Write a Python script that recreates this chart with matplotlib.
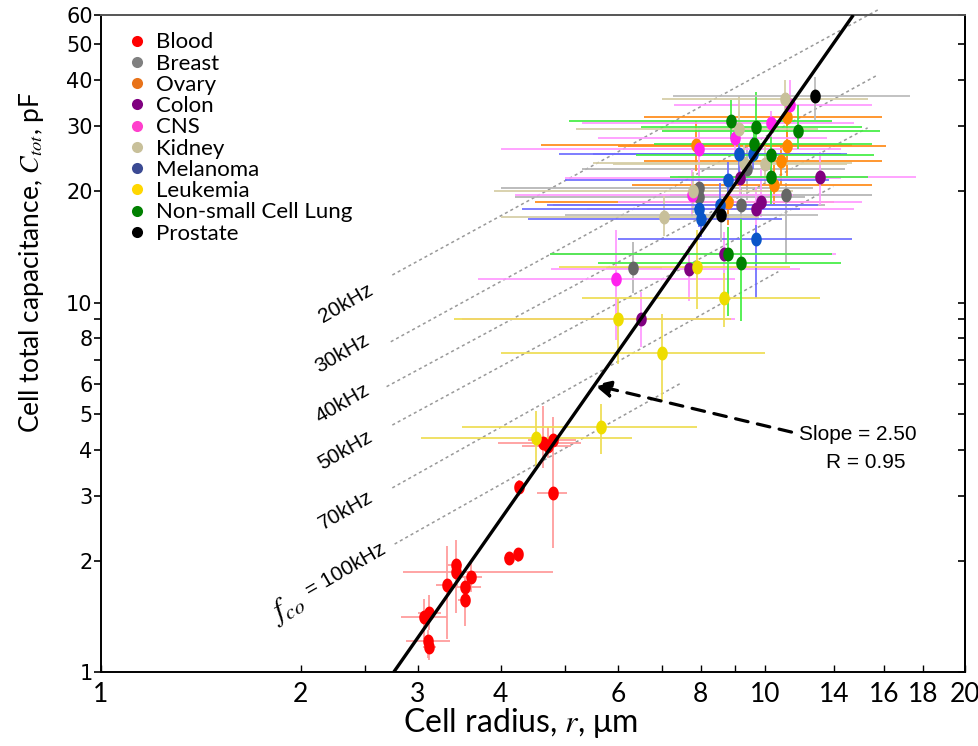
import numpy as np
import matplotlib
matplotlib.use("Agg")
import matplotlib.pyplot as plt
from matplotlib.path import Path
from matplotlib.lines import Line2D

# ---------------- data ----------------
CATEGORIES = ["Blood", "Breast", "Ovary", "Colon", "CNS", "Kidney",
              "Melanoma", "Leukemia", "Non-small Cell Lung", "Prostate"]
MARKER_COLORS = ["#ff0000", "#666666", "#ff8800", "#800080", "#ff22ee",
                 "#c8c09a", "#0a55c8", "#eedd00", "#008000", "#000000"]
LEGEND_COLORS = ["#ff0000", "#808080", "#e8731a", "#800080", "#ff3fcc",
                 "#c8c09a", "#3b4a93", "#ffd700", "#008000", "#000000"]
ERR_COLORS = ["#ff9a9a", "#b4b4b4", "#ff8c1a", "#ff99ff", "#ff99ff",
              "#d6cea6", "#6f6fff", "#eedd55", "#44ee44", "#bbbbbb"]

# each category: radius r (um), capacitance C (pF), r range, C range
BLOOD_R = [3.06, 3.12, 3.11, 3.12, 3.32, 3.43, 3.43, 3.61, 3.53, 3.53, 4.11, 4.25, 4.26, 4.79, 4.63, 4.71, 4.79]
BLOOD_C = [1.41, 1.44, 1.21, 1.17, 1.72, 1.95, 1.86, 1.81, 1.70, 1.57, 2.04, 2.08, 3.17, 3.06, 4.17, 4.10, 4.25]
BLOOD_R_LO = [2.83, 3.00, 2.88, 3.05, 3.20, 3.33, 2.85, 3.50, 3.36, 3.45, 4.05, 4.20, 4.20, 4.54, 3.96, 4.30, 4.40]
BLOOD_R_HI = [3.32, 3.25, 3.35, 3.20, 3.45, 3.50, 4.79, 3.75, 3.73, 3.60, 4.17, 4.30, 4.32, 5.04, 5.29, 5.10, 5.20]
BLOOD_C_LO = [1.23, 1.30, 1.09, 1.08, 1.23, 1.44, 1.70, 1.65, 1.60, 1.33, 1.97, 1.99, 3.00, 2.17, 3.57, 3.80, 3.90]
BLOOD_C_HI = [1.58, 1.62, 1.30, 1.25, 2.19, 2.28, 2.00, 1.98, 1.80, 1.65, 2.10, 2.16, 3.30, 4.14, 5.25, 4.60, 4.90]

BREAST_R = [9.4, 10.75, 7.95, 7.95, 9.2, 6.33]
BREAST_C = [23.0, 19.5, 20.4, 19.3, 18.4, 12.4]
BREAST_R_LO = [5.3, 7.18, 4.0, 4.2, 4.8, 5.76]
BREAST_R_HI = [13.2, 14.5, 11.8, 11.5, 12.3, 6.99]
BREAST_C_LO = [19.0, 12.8, 18.0, 17.0, 12.9, 10.6]
BREAST_C_HI = [27.0, 21.0, 23.0, 22.0, 20.5, 14.6]

OVARY_R = [10.8, 7.87, 10.8, 10.55, 10.3, 8.8]
OVARY_C = [31.7, 26.7, 26.6, 24.1, 20.8, 18.7]
OVARY_R_LO = [6.57, 4.6, 6.0, 6.57, 6.3, 4.5]
OVARY_R_HI = [15.0, 13.5, 15.2, 15.0, 14.5, 12.7]
OVARY_C_LO = [27.0, 22.7, 22.0, 20.8, 18.5, 16.2]
OVARY_C_HI = [37.0, 31.0, 31.0, 26.7, 23.5, 20.0]

COLON_R = [12.1, 9.16, 9.87, 9.7, 8.68, 7.67, 6.5]
COLON_C = [21.8, 21.7, 18.7, 17.9, 13.5, 12.3, 9.0]
COLON_R_LO = [7.4, 5.0, 6.0, 5.4, 4.75, 4.76, 3.5]
COLON_R_HI = [16.9, 13.0, 14.0, 13.6, 12.8, 11.3, 9.0]
COLON_C_LO = [18.4, 19.5, 17.0, 15.5, 11.5, 10.1, 7.6]
COLON_C_HI = [25.5, 24.5, 23.0, 20.5, 15.5, 14.2, 10.7]

CNS_R = [10.9, 10.2, 9.0, 7.95, 7.75, 5.96]
CNS_C = [34.3, 30.6, 27.8, 26.0, 19.5, 11.6]
CNS_R_LO = [7.3, 5.3, 5.6, 4.0, 4.2, 3.7]
CNS_R_HI = [14.5, 13.6, 12.4, 13.0, 11.0, 9.0]
CNS_C_LO = [31.0, 28.0, 25.0, 20.0, 17.0, 7.9]
CNS_C_HI = [40.0, 33.0, 31.0, 30.0, 23.0, 15.7]

KIDNEY_R = [10.7, 9.15, 9.3, 9.98, 7.8, 7.05]
KIDNEY_C = [35.6, 29.4, 23.9, 23.7, 20.0, 17.0]
KIDNEY_R_LO = [7.0, 5.2, 5.5, 5.9, 3.9, 4.0]
KIDNEY_R_HI = [14.3, 12.0, 13.5, 13.3, 11.0, 9.8]
KIDNEY_C_LO = [33.1, 25.7, 21.0, 21.0, 17.5, 15.1]
KIDNEY_C_HI = [39.9, 36.2, 27.0, 26.5, 22.5, 19.4]

MELANOMA_R = [9.13, 9.6, 8.8, 8.54, 7.95, 8.0, 9.7]
MELANOMA_C = [25.3, 25.3, 21.5, 18.4, 17.9, 16.8, 14.9]
MELANOMA_R_LO = [4.9, 5.5, 5.0, 4.7, 4.3, 4.4, 6.0]
MELANOMA_R_HI = [13.3, 13.0, 12.5, 12.0, 11.3, 10.6, 13.5]
MELANOMA_C_LO = [22.5, 23.0, 19.5, 17.0, 16.0, 15.0, 10.3]
MELANOMA_C_HI = [28.0, 28.0, 24.0, 21.0, 20.0, 19.0, 16.2]

LEUKEMIA_R = [7.9, 8.67, 6.0, 7.0, 5.67, 4.52]
LEUKEMIA_C = [12.5, 10.3, 9.0, 7.3, 4.6, 4.3]
LEUKEMIA_R_LO = [4.9, 5.3, 3.4, 4.0, 3.5, 3.03]
LEUKEMIA_R_HI = [10.9, 12.1, 8.9, 10.0, 7.9, 6.3]
LEUKEMIA_C_LO = [9.6, 8.6, 6.8, 5.4, 3.9, 3.6]
LEUKEMIA_C_HI = [15.7, 12.0, 10.3, 9.3, 5.3, 5.1]

NSCL_R = [8.9, 9.7, 11.2, 9.63, 10.2, 10.2, 8.8, 9.2]
NSCL_C = [30.9, 29.8, 29.2, 26.8, 25.0, 21.8, 13.5, 12.8]
NSCL_R_LO = [5.06, 6.5, 7.0, 6.8, 6.4, 7.2, 4.75, 5.6]
NSCL_R_HI = [12.6, 14.0, 14.9, 14.5, 14.6, 14.3, 12.6, 13.0]
NSCL_C_LO = [27.7, 26.0, 26.0, 24.0, 18.5, 19.5, 9.2, 8.9]
NSCL_C_HI = [35.3, 37.1, 34.3, 29.5, 28.0, 24.0, 16.0, 16.8]

PROSTATE_R = [11.9, 8.57]
PROSTATE_C = [36.3, 17.2]
PROSTATE_R_LO = [7.26, 5.0]
PROSTATE_R_HI = [16.5, 12.0]
PROSTATE_C_LO = [31.1, 14.6]
PROSTATE_C_HI = [40.8, 19.0]

SERIES = [
    (BLOOD_R, BLOOD_C, BLOOD_R_LO, BLOOD_R_HI, BLOOD_C_LO, BLOOD_C_HI),
    (BREAST_R, BREAST_C, BREAST_R_LO, BREAST_R_HI, BREAST_C_LO, BREAST_C_HI),
    (OVARY_R, OVARY_C, OVARY_R_LO, OVARY_R_HI, OVARY_C_LO, OVARY_C_HI),
    (COLON_R, COLON_C, COLON_R_LO, COLON_R_HI, COLON_C_LO, COLON_C_HI),
    (CNS_R, CNS_C, CNS_R_LO, CNS_R_HI, CNS_C_LO, CNS_C_HI),
    (KIDNEY_R, KIDNEY_C, KIDNEY_R_LO, KIDNEY_R_HI, KIDNEY_C_LO, KIDNEY_C_HI),
    (MELANOMA_R, MELANOMA_C, MELANOMA_R_LO, MELANOMA_R_HI, MELANOMA_C_LO, MELANOMA_C_HI),
    (LEUKEMIA_R, LEUKEMIA_C, LEUKEMIA_R_LO, LEUKEMIA_R_HI, LEUKEMIA_C_LO, LEUKEMIA_C_HI),
    (NSCL_R, NSCL_C, NSCL_R_LO, NSCL_R_HI, NSCL_C_LO, NSCL_C_HI),
    (PROSTATE_R, PROSTATE_C, PROSTATE_R_LO, PROSTATE_R_HI, PROSTATE_C_LO, PROSTATE_C_HI),
]

# fitted power law (slope 2.50, R = 0.95), end points
FIT_R = [2.76, 13.58]
FIT_C = [1.0, 60.0]

# constant cut-off frequency lines: label, start (r, C), end (r, C)
FCO_LABELS = ["20kHz", "30kHz", "40kHz", "50kHz", "70kHz", "= 100kHz"]
FCO_R0 = [2.746, 2.731, 2.692, 2.746, 2.746, 2.768]
FCO_C0 = [11.87, 7.83, 5.92, 4.66, 3.15, 2.22]
FCO_R1 = [14.85, 14.78, 14.27, 12.67, 10.47, 7.48]
FCO_C1 = [62.2, 41.3, 29.7, 20.6, 12.12, 6.06]
FCO_LABEL_R = [2.335, 2.31, 2.31, 2.335, 2.335, 2.335]
FCO_LABEL_C = [9.95, 7.29, 5.34, 3.99, 2.74, 1.89]
FCO_SYMBOL = r"$f_{co}$"
FCO_SYMBOL_R = 1.909
FCO_SYMBOL_C = 1.49

X_TICKS = [1, 2, 3, 4, 6, 8, 10, 12.7, 15.1, 17.3, 20]
X_TICKLABELS = ["1", "2", "3", "4", "6", "8", "10", "14", "16", "18", "20"]
X_MINOR = [2.5, 5, 7, 9]
Y_TICKS = [1, 2, 3, 4, 5, 6, 8, 10, 20, 30, 40, 50, 60]
Y_MINOR = [7, 9]

# ---------------- figure ----------------
fig = plt.figure(figsize=(9.79, 7.46), dpi=100)
ax = fig.add_axes([101 / 979, 74 / 746, 864 / 979, 657 / 746])
ax.set_xscale("log")
ax.set_yscale("log")
ax.set_xlim(1, 20)
ax.set_ylim(1, 60)

t = np.linspace(0, 2 * np.pi, 60)
ELLIPSE = Path(np.column_stack([0.76 * np.cos(t), np.sin(t)]), closed=True)

# reference lines
for i in range(len(FCO_LABELS)):
    ax.plot([FCO_R0[i], FCO_R1[i]], [FCO_C0[i], FCO_C1[i]], ls=(0, (2, 2)),
            color="#999999", lw=1.1, zorder=1, clip_on=False)
    ax.text(FCO_LABEL_R[i], FCO_LABEL_C[i], FCO_LABELS[i], fontsize=15,
            rotation=30, ha="center", va="center", family="Liberation Sans",
            zorder=5)
ax.text(FCO_SYMBOL_R, FCO_SYMBOL_C, FCO_SYMBOL, fontsize=22, rotation=30,
        ha="center", va="center", math_fontfamily="stix", zorder=5)

# error bars
for k, (r, c, rlo, rhi, clo, chi) in enumerate(SERIES):
    r = np.array(r); c = np.array(c)
    xerr = [r - np.array(rlo), np.array(rhi) - r]
    yerr = [c - np.array(clo), np.array(chi) - c]
    ax.errorbar(r, c, xerr=xerr, yerr=yerr, fmt="none", ecolor=ERR_COLORS[k],
                elinewidth=1.4, alpha=0.9, capsize=0, zorder=2)

# markers
for k, (r, c, *_rest) in enumerate(SERIES):
    ax.plot(r, c, ls="none", marker=ELLIPSE, markersize=10, color=MARKER_COLORS[k],
            markeredgewidth=0, zorder=4)

# fit line
ax.plot(FIT_R, FIT_C, color="black", lw=2.4, zorder=6, solid_capstyle="butt")

# annotation
ax.annotate("", xy=(5.53, 5.98), xytext=(10.96, 4.46),
            arrowprops=dict(arrowstyle="-|>,head_length=1.0,head_width=0.5",
                            color="black", lw=2.3, ls=(0, (4, 3)),
                            shrinkA=0, shrinkB=0), zorder=7)
ax.text(858 / 979, 1 - 434 / 746, "Slope = 2.50", transform=fig.transFigure,
        fontsize=15, ha="center", va="center", family="Liberation Sans")
ax.text(866 / 979, 1 - 463 / 746, "R = 0.95", transform=fig.transFigure,
        fontsize=15, ha="center", va="center", family="Liberation Sans")

# legend
handles = [Line2D([], [], ls="none", marker="o", markersize=8,
                  markerfacecolor=col, markeredgewidth=0) for col in LEGEND_COLORS]
leg = ax.legend(handles, CATEGORIES, loc="upper left",
                bbox_to_anchor=(0.031, 0.9735),
                frameon=False, prop={"family": "Lato", "size": 16},
                handlelength=0.8, handletextpad=0.45, labelspacing=0.056,
                borderaxespad=0.0, borderpad=0.0)

# axes styling
for s in ["left", "bottom", "right"]:
    ax.spines[s].set_color("black")
    ax.spines[s].set_linewidth(1.4)
ax.spines["top"].set_color("#555555")
ax.spines["top"].set_linewidth(1.4)

ax.set_xticks(X_TICKS)
ax.set_xticklabels(X_TICKLABELS)
ax.set_xticks(X_MINOR, minor=True)
ax.set_yticks(Y_TICKS)
ax.set_yticklabels([str(v) for v in Y_TICKS])
ax.set_yticks(Y_MINOR, minor=True)
ax.yaxis.set_minor_formatter(matplotlib.ticker.NullFormatter())
ax.xaxis.set_minor_formatter(matplotlib.ticker.NullFormatter())
ax.tick_params(axis="x", which="both", direction="in", length=5, width=1,
               labelsize=19, pad=7)
ax.tick_params(axis="y", which="both", direction="out", length=5, width=1.2,
               labelsize=15, pad=1)
for lab in ax.get_xticklabels():
    lab.set_family("Lato")
for lab in ax.get_yticklabels():
    lab.set_family("DejaVu Sans")

# inward ticks on the right spine
sec = ax.secondary_yaxis("right")
sec.set_yticks(Y_TICKS)
sec.set_yticks(Y_MINOR, minor=True)
sec.tick_params(which="both", direction="in", length=5, width=1.2, labelright=False)
sec.yaxis.set_minor_formatter(matplotlib.ticker.NullFormatter())
sec.spines["right"].set_linewidth(1.4)

ax.set_xlabel(r"Cell radius, $r$, μm", fontsize=23, family="Lato",
              math_fontfamily="stix")
ax.xaxis.set_label_coords(0.486, -0.052)
ax.set_ylabel(r"Cell total capacitance, $C_{tot}$, pF", fontsize=19,
              family="Lato", math_fontfamily="stix")
ax.yaxis.set_label_coords(-0.0635, 0.624)

fig.savefig("out.png", dpi=100)
